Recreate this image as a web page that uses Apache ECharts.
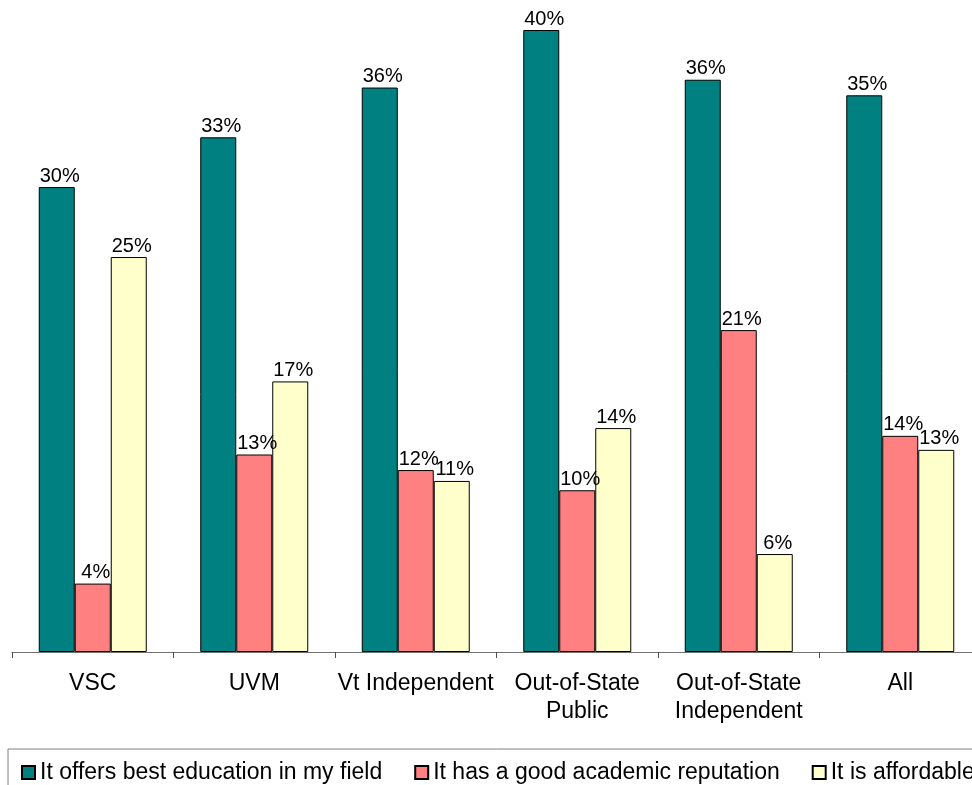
<!DOCTYPE html>
<html>
<head>
<meta charset="utf-8">
<script src="https://cdn.jsdelivr.net/npm/echarts@6/dist/echarts.min.js"></script>
<style>html,body{margin:0;padding:0;background:#fff;overflow:hidden;width:972px;height:785px;}#c{width:992px;height:785px;}</style>
</head>
<body>
<div id="c"></div>
<script>
var categories = ['VSC', 'UVM', 'Vt Independent', 'Out-of-State\nPublic', 'Out-of-State\nIndependent', 'All'];
var seriesNames = ['It offers best education in my field', 'It has a good academic reputation', 'It is affordable'];
var bestEducation = [29.9, 33.1, 36.3, 40.0, 36.8, 35.8];
var reputation = [4.4, 12.7, 11.7, 10.4, 20.7, 13.9];
var affordable = [25.4, 17.4, 11.0, 14.4, 6.3, 13.0];
var bestEducationLabels = ['30%', '33%', '36%', '40%', '36%', '35%'];
var reputationLabels = ['4%', '13%', '12%', '10%', '21%', '14%'];
var affordableLabels = ['25%', '17%', '11%', '14%', '6%', '13%'];
var colors = ['#008080', '#FF8080', '#FFFFCC'];

var FONT = '"Liberation Sans", Arial, sans-serif';
function mk(name, data, labels, color) {
  return {
    name: name, type: 'bar', data: data, barWidth: 36, barGap: '0%',
    itemStyle: { color: color, borderColor: '#000', borderWidth: 1 },
    label: { show: true, position: 'top', distance: 1, color: '#000', fontSize: 20, fontFamily: FONT,
      offset: [3, 0],
      formatter: function (p) { return labels[p.dataIndex]; } },
    animation: false
  };
}
var chart = echarts.init(document.getElementById('c'), null, { renderer: 'canvas' });
chart.setOption({
  animation: false,
  grid: { left: 12, right: 11, top: 30, height: 622, containLabel: false },
  xAxis: {
    type: 'category', data: categories,
    axisLine: { lineStyle: { color: '#707070', width: 1 } },
    axisTick: { show: true, length: 6, lineStyle: { color: '#505050' } },
    axisLabel: { color: '#000', fontSize: 23, fontFamily: FONT, margin: 18, lineHeight: 28, interval: 0 }
  },
  yAxis: { type: 'value', min: 0, max: 40, show: false, splitLine: { show: false } },
  legend: {
    left: 8, top: 749, orient: 'horizontal', width: 1200,
    padding: [12, 10, 20, 13],
    itemGap: 32, itemWidth: 13, itemHeight: 13, icon: 'rect',
    borderColor: '#808080', borderWidth: 1,
    textStyle: { color: '#000', fontSize: 23, fontFamily: FONT },
    data: seriesNames
  },
  series: [
    mk(seriesNames[0], bestEducation, bestEducationLabels, colors[0]),
    mk(seriesNames[1], reputation, reputationLabels, colors[1]),
    mk(seriesNames[2], affordable, affordableLabels, colors[2])
  ]
});
</script>
</body>
</html>
